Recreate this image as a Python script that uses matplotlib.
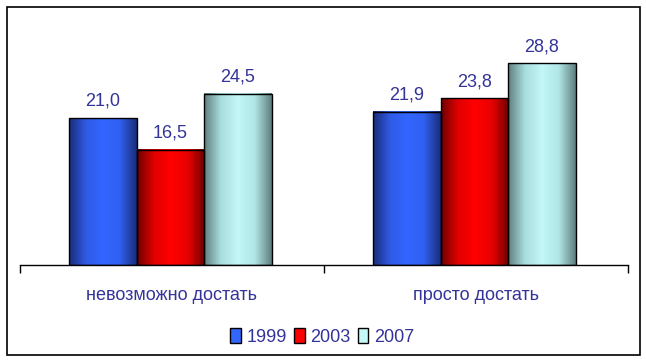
import numpy as np
import matplotlib
matplotlib.use("Agg")
import matplotlib.pyplot as plt
from matplotlib.colors import LinearSegmentedColormap
from matplotlib.patches import Rectangle, Patch

categories = ["невозможно достать", "просто достать"]
years = ["1999", "2003", "2007"]
values_1999 = [21.0, 21.9]
values_2003 = [16.5, 23.8]
values_2007 = [24.5, 28.8]
series = [values_1999, values_2003, values_2007]

gradients = [
    ["#1a2c78", "#2f5ae6", "#3366ff", "#3060f0", "#1a2c78"],
    ["#6e0000", "#e00000", "#ff0000", "#e80000", "#6e0000"],
    ["#5f7e7c", "#a8dede", "#c4f7f7", "#b0e6e6", "#5f7e7c"],
]
legend_colors = ["#3366ff", "#ff0000", "#c4f7f7"]
text_color = "#333399"

plt.rcParams['font.family'] = ['Liberation Sans', 'DejaVu Sans']

fig = plt.figure(figsize=(6.46, 3.62), dpi=100)
ax = fig.add_axes([20/646, 1-265/362, 608/646, 245/362])

x = np.arange(len(categories))
w = 0.222
for i, vals in enumerate(series):
    cmap = LinearSegmentedColormap.from_list(f"g{i}", gradients[i])
    bars = ax.bar(x + (i - 1) * w - 0.005, vals, w, facecolor="none", edgecolor="black",
                  linewidth=1.0, zorder=3)
    grad = np.linspace(0, 1, 256).reshape(1, -1)
    for b, v in zip(bars, vals):
        bx, by = b.get_x(), b.get_y()
        bw, bh = b.get_width(), b.get_height()
        ax.imshow(grad, cmap=cmap, aspect="auto", extent=(bx, bx + bw, by, by + bh),
                  zorder=2, interpolation="bilinear")
        ax.annotate(f"{v:.1f}".replace(".", ","), (bx + bw / 2, by + bh),
                    xytext=(0, 6), textcoords="offset points", ha="center",
                    va="bottom", fontsize=13, color=text_color)

ax.set_xlim(-0.5, 1.5)
ax.set_ylim(0, 35)
for s in ["top", "right", "left"]:
    ax.spines[s].set_visible(False)
ax.spines["bottom"].set_linewidth(1.0)
ax.set_yticks([])
ax.set_xticks(x)
ax.set_xticklabels(categories, fontsize=13, color=text_color)
ax.tick_params(axis="x", which="major", length=0, pad=16)
ax.set_xticks([-0.5, 0.5, 1.5], minor=True)
ax.tick_params(axis="x", which="minor", length=6, width=1.0, direction="out")

handles = [Patch(facecolor=c, edgecolor="black", linewidth=1.0) for c in legend_colors]
fig.legend(handles, years, loc="center", bbox_to_anchor=(322/646, 1-337/362),
           ncol=3, frameon=False, fontsize=13, handlelength=0.6, handleheight=0.9,
           handletextpad=0.3, columnspacing=0.4, labelcolor=text_color)

fig.patches.append(Rectangle((7/646, 1-355/362), 633/646, 348/362, transform=fig.transFigure,
                             fill=False, edgecolor="black", linewidth=1.2))

fig.savefig("out.png", dpi=100)
